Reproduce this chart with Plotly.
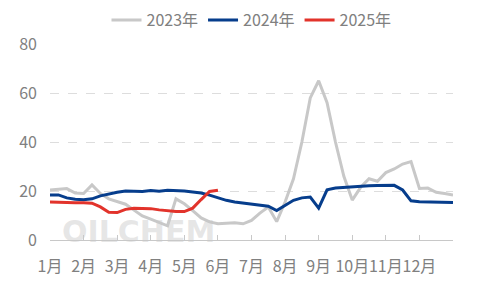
import plotly.graph_objects as go

weeks = list(range(49))
months = ["1月", "2月", "3月", "4月", "5月", "6月", "7月", "8月", "9月", "10月", "11月", "12月"]
month_pos = [0, 4, 8, 12, 16, 20, 24, 28, 32, 36, 40, 44]

y2023 = [20.4, 20.8, 21, 19.2, 19, 22.5, 19, 16.8, 15.8, 14.6, 12.2, 9.8, 8.5, 7.2, 5.8,
         16.8, 14.8, 12, 9, 7.4, 6.6, 6.8, 7, 6.6, 8, 11, 13.5, 7.5, 15.5, 25, 40, 58,
         65, 56, 40, 26, 16.3, 21.5, 25, 24, 27.5, 29, 31, 32, 21, 21.2, 19.5, 19, 18.4]
y2024 = [18.4, 18.4, 17.2, 16.6, 16.4, 16.8, 18, 18.8, 19.5, 20, 19.8, 19.8, 20.2, 19.9,
         20.3, 20.2, 20, 19.6, 19.2, 18.3, 17.2, 16.2, 15.5, 15.1, 14.7, 14.3, 13.8, 12,
         14, 16.2, 17.2, 17.5, 13, 20.5, 21.2, 21.5, 21.8, 22, 22.1, 22.2, 22.3, 22.3,
         20.4, 16, 15.6, 15.5, 15.3, 15.3, 15.3]
y2025 = [15.5, 15.3, 15.2, 15.2, 15.2, 15, 13.5, 11.3, 11.2, 12.5, 13, 13, 12.8, 12.3,
         11.8, 11.6, 11.6, 13, 16.5, 19.8, 20.3]

series = [("2023年", y2023, "#c8c8c8"), ("2024年", y2024, "#063d8c"), ("2025年", y2025, "#e2332b")]

fig = go.Figure()
for name, ys, color in series:
    fig.add_trace(go.Scatter(x=weeks[:len(ys)], y=ys, name=name, mode="lines",
                             line=dict(color=color, width=3)))

fig.add_annotation(text="<b>OILCHEM</b>", x=0.22, y=0.045, xref="paper", yref="paper",
                   xanchor="center", yanchor="middle", showarrow=False,
                   font=dict(size=30, color="rgba(200,200,200,0.45)", family="Arial Black, DejaVu Sans"))

fig.update_layout(
    width=479, height=288,
    margin=dict(l=50, r=26, t=44, b=48, autoexpand=False),
    paper_bgcolor="white", plot_bgcolor="white",
    font=dict(family="Noto Sans CJK SC, sans-serif", color="#808080", size=16),
    showlegend=True,
    legend=dict(orientation="h", x=0.5, xanchor="center", yref="container", y=0.93,
                yanchor="middle", font=dict(size=16, color="#808080"),
                itemwidth=30, tracegroupgap=0),
)
fig.update_xaxes(range=[0, 48], tickmode="array", tickvals=month_pos, ticktext=months,
                 tickangle=0, automargin=False,
                 showgrid=False, showline=True, linecolor="#c8c8c8", linewidth=1,
                 ticks="inside", ticklen=5, tickcolor="#c8c8c8", ticklabelstandoff=12,
                 zeroline=False, tickfont=dict(size=16, color="#808080"))
fig.update_yaxes(range=[0, 80], tickvals=[0, 20, 40, 60, 80], showgrid=True, automargin=False,
                 gridcolor="#dddddd", griddash="dash", gridwidth=1, zeroline=False,
                 ticks="", ticklabelstandoff=12, tickfont=dict(size=16, color="#808080"))

fig.write_html("out.html")
